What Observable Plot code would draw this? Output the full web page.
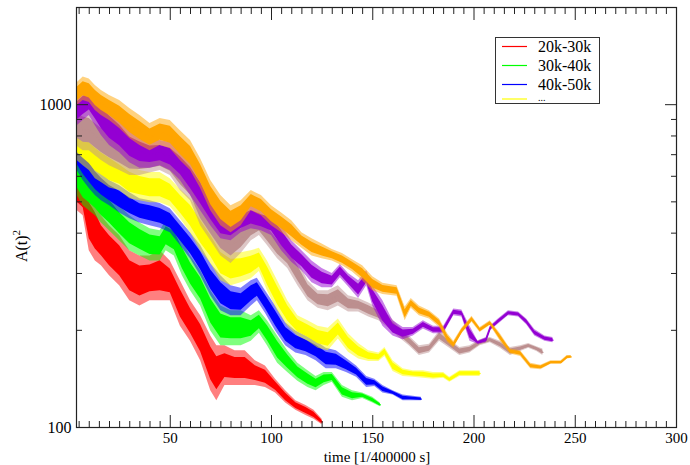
<!DOCTYPE html>
<html><head><meta charset="utf-8">
<script src="https://cdn.jsdelivr.net/npm/d3@7"></script>
<script src="https://cdn.jsdelivr.net/npm/@observablehq/plot@0.6"></script>
<style>body{margin:0;background:#fff}svg{display:block}</style>
</head><body><div id="chart"></div>
<script>
// ---- data (time, lower and upper edge of each noisy band) ----
const seriesNames = ["20k-30k", "30k-40k", "40k-50k", "50k-60k", "60k-70k", "70k-80k", "80k-90k"];
const seriesColors = ["#ff0000", "#00ff00", "#0000ff", "#ffff00", "#bc8f8f", "#9400d3", "#ffa500"];
const legendLabels = ["20k-30k", "30k-40k", "40k-50k", "..."];

const redT  = [4,7,10,13,16,20,25,30,35,40,45,50,55,60,65,70,73,77,82,87,92,97,102,107,112,117,121,125];
const redHi = [640,603,542,504,453,422,393,353,340,340,353,328,285,247,222,192,179,179,173,173,161,155,141,130,121,117,113,106];
const redLo = [470,453,353,328,317,295,275,247,238,247,247,247,206,185,161,130,121,135,135,135,135,133,128,119,113,109,106,102];

const greenT  = [4,7,10,13,16,20,25,30,35,40,45,48,52,56,60,65,70,75,80,85,90,94,98,103,108,113,118,122,126,130,135,140,145,150,153.7];
const greenHi = [695,647,625,590,561,534,486,453,430,413,407,437,422,379,340,306,265,238,230,230,222,230,214,192,173,158,150,144,148,148,135,130,128,124,119];
const greenLo = [523,486,469,453,430,407,379,353,340,328,328,353,340,295,265,238,199,179,179,179,185,196,179,158,148,139,133,130,135,138,124,121,123,119,116];

const blueT  = [4,7,10,13,16,20,25,30,35,40,45,50,55,60,65,70,75,80,85,90,93,97,102,107,112,117,122,127,132,137,142,147,151,155,160,165,170,174];
const blueHi = [774,730,695,647,616,582,561,534,511,504,494,476,437,401,366,322,295,275,270,285,290,265,238,211,199,192,185,176,173,164,155,144,141,135,130,126,125,124];
const blueLo = [625,582,550,523,504,486,462,443,430,422,414,401,366,333,295,256,230,222,222,238,247,226,199,179,170,167,161,152,152,148,143,133,134,128,126,121,121,121];

const yellowT  = [4,7,10,13,16,20,25,30,35,40,45,50,55,60,65,70,75,80,85,90,94,98,103,108,113,118,123,128,133,138,143,148,153,156,160,165,170,175,180,185,188,193,198,203];
const yellowHi = [893,843,802,774,747,720,680,647,625,616,616,590,546,511,462,413,366,348,348,353,359,328,285,247,222,214,206,203,217,195,182,173,170,177,161,152,150,150,148,148,143,150,150,150];
const yellowLo = [671,647,625,590,574,552,542,511,504,497,497,483,443,401,353,322,285,275,281,289,304,265,230,206,192,185,176,173,188,171,163,160,160,166,149,144,143,142,141,142,138,144,144,144];

const brownT  = [4,7,10,13,16,20,25,30,35,40,45,50,55,60,65,70,75,80,85,90,94,98,103,108,113,118,123,128,133,138,143,148,153,158,163,168,173,178,183,188,193,198,203,208,213,218,223,227,231,234];
const brownHi = [994,973,959,925,893,861,819,763,747,730,730,706,671,616,542,486,443,422,430,453,462,430,393,366,328,285,265,265,275,256,251,243,234,222,206,192,179,181,199,187,177,179,187,190,185,177,179,182,178,175];
const brownLo = [743,720,720,695,671,647,625,603,603,614,625,603,542,504,422,379,340,322,346,379,393,366,333,311,275,247,234,230,238,228,228,220,214,203,190,179,167,170,185,176,167,170,179,183,176,167,172,176,172,167];

const violetT  = [4,7,10,13,16,20,25,30,35,40,45,50,55,60,65,70,75,80,85,90,95,100,105,110,115,120,125,130,134,138,143,147,150,155,160,165,170,175,180,185,190,194,198,202,206,208,212,217,222,226,230,235,239];
const violetHi = [1063,1106,1130,1106,1030,973,906,831,802,774,774,763,720,671,603,523,462,453,469,486,469,462,422,379,353,328,311,300,320,300,285,306,275,247,214,204,204,214,206,206,233,231,206,185,190,206,217,230,228,217,201,192,190];
const violetLo = [861,893,925,861,802,747,710,661,636,636,647,625,582,523,469,422,384,379,401,413,407,393,353,325,306,281,271,271,291,273,251,275,238,206,192,187,192,202,195,195,222,220,185,181,183,199,209,222,220,208,192,185,183];

const orangeT  = [4,7,10,13,16,20,25,30,35,40,45,50,55,60,65,70,75,80,85,90,95,100,105,110,115,120,125,130,135,140,145,150,155,162,166,169,173,178,183,187,190,194,199,203,208,213,218,223,228,233,238,243,246,248];
const orangeHi = [1170,1219,1200,1146,1106,1067,1030,973,925,874,906,893,831,774,680,582,523,486,504,542,523,486,462,437,401,384,370,356,346,331,317,293,280,275,236,251,238,230,217,195,185,203,221,204,214,195,175,173,158,156,161,161,167,167];
const orangeLo = [994,1030,1015,959,925,893,843,786,747,720,747,730,671,625,550,469,422,401,422,469,453,422,401,379,359,340,333,328,317,303,285,265,258,255,214,234,222,217,204,183,176,195,212,197,207,185,169,166,152,151,157,157,163,164];

const xMajorTicks = [50, 100, 150, 200, 250, 300];
const xMinorTicks = d3.range(5, 300, 5).filter(v => v % 50 !== 0);
const yMajorTicks = [100, 1000];
const yMinorTicks = [200, 300, 400, 500, 600, 700, 800, 900];

// ---- build tables ----
const raw = [
  [redT, redLo, redHi], [greenT, greenLo, greenHi], [blueT, blueLo, blueHi],
  [yellowT, yellowLo, yellowHi], [brownT, brownLo, brownHi],
  [violetT, violetLo, violetHi], [orangeT, orangeLo, orangeHi]
];
const series = raw.map(([T, L, H], k) => ({
  name: seriesNames[k], color: seriesColors[k],
  rows: T.map((t, i) => {
    const mid = Math.sqrt(L[i] * H[i]);
    return {t, lo: L[i], hi: H[i], mid,
      lo2: mid * Math.pow(L[i] / mid, 0.6), hi2: mid * Math.pow(H[i] / mid, 0.6)};
  })
}));

const dataMarks = series.flatMap(s => [
  Plot.areaY(s.rows, {x: "t", y1: "lo", y2: "hi", fill: s.color, fillOpacity: 0.5}),
  Plot.areaY(s.rows, {x: "t", y1: "lo2", y2: "hi2", fill: s.color, fillOpacity: 1}),
  Plot.line(s.rows, {x: "t", y: "mid", stroke: s.color, strokeWidth: 1.3})
]);

const noText = () => "";
const axisMarks = [
  Plot.axisX(xMajorTicks, {anchor: "bottom", tickSize: -12, tickFormat: noText, label: null, stroke: "#222"}),
  Plot.axisX(xMinorTicks, {anchor: "bottom", tickSize: -6, tickFormat: noText, label: null, stroke: "#222"}),
  Plot.axisX(xMajorTicks, {anchor: "top", tickSize: -12, tickFormat: noText, label: null, stroke: "#222"}),
  Plot.axisX(xMinorTicks, {anchor: "top", tickSize: -6, tickFormat: noText, label: null, stroke: "#222"}),
  Plot.axisX(xMajorTicks, {anchor: "bottom", tickSize: 0, tickPadding: 5, tickFormat: d => String(d), label: null, fill: "black", fontSize: 15}),
  Plot.axisY(yMajorTicks, {anchor: "left", tickSize: -12, tickFormat: noText, label: null, stroke: "#222"}),
  Plot.axisY(yMinorTicks, {anchor: "left", tickSize: -6, tickFormat: noText, label: null, stroke: "#222"}),
  Plot.axisY(yMajorTicks, {anchor: "right", tickSize: -12, tickFormat: noText, label: null, stroke: "#222"}),
  Plot.axisY(yMinorTicks, {anchor: "right", tickSize: -6, tickFormat: noText, label: null, stroke: "#222"}),
  Plot.axisY(yMajorTicks, {anchor: "left", tickSize: 0, tickPadding: 5, tickFormat: d => String(d), label: null, fill: "black"})
];

const chart = Plot.plot({
  width: 690, height: 465,
  marginLeft: 76, marginRight: 14, marginTop: 7, marginBottom: 38,
  style: {fontFamily: "'Liberation Serif', 'DejaVu Serif', serif", fontSize: "16px", background: "white", color: "black"},
  x: {domain: [3.7, 300]},
  y: {type: "log", domain: [100, 2000]},
  marks: [
    ...dataMarks,
    ...axisMarks,
    Plot.frame({stroke: "#222", strokeWidth: 1.2})
  ]
});
document.getElementById("chart").appendChild(chart);

// ---- titles and legend ----
const svg = d3.select(chart);
const font = "'Liberation Serif', 'DejaVu Serif', serif";
svg.append("text").attr("x", 377).attr("y", 462).attr("text-anchor", "middle")
  .style("font-family", font).style("font-size", "15px").attr("fill", "black")
  .text("time [1/400000 s]");
const yl = svg.append("text").attr("transform", "translate(27,246) rotate(-90)").attr("text-anchor", "middle")
  .style("font-family", font).style("font-size", "16px").attr("fill", "black");
yl.append("tspan").text("A(t)");
yl.append("tspan").attr("dy", -7).style("font-size", "11px").text("2");

const lg = svg.append("g").attr("text-anchor", "start");
lg.append("rect").attr("x", 495.5).attr("y", 37.5).attr("width", 104).attr("height", 66)
  .attr("fill", "white").attr("stroke", "#333").attr("stroke-width", 1);
const rowY = [46.5, 65.5, 84.5, 99];
legendLabels.forEach((lab, i) => {
  lg.append("line").attr("x1", 502).attr("x2", 527).attr("y1", rowY[i]).attr("y2", rowY[i])
    .attr("stroke", seriesColors[i]).attr("stroke-width", 1.2);
  lg.append("text").attr("x", 538).attr("y", i < 3 ? rowY[i] + 5 : rowY[i] + 2)
    .attr("text-anchor", "start")
    .style("font-family", font).style("font-size", i < 3 ? "16px" : "10px").attr("fill", "black").text(lab);
});
</script>
</body></html>
